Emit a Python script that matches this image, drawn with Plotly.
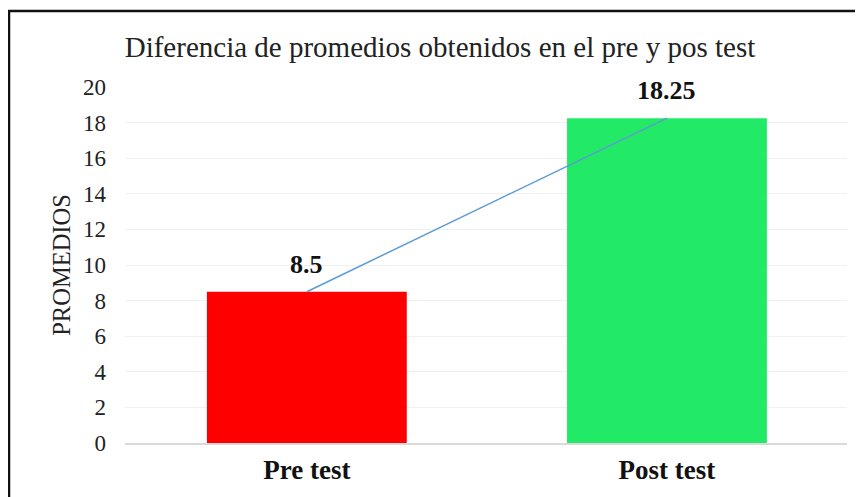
import plotly.graph_objects as go

categories = ["Pre test", "Post test"]
values = [8.5, 18.25]
bar_colors = ["#ff0000", "#22ea66"]
y_ticks = [0, 2, 4, 6, 8, 10, 12, 14, 16, 18, 20]

# page has an 8px body margin, so the figure is offset by 8px
OFF = 8
W, H = 863 - OFF, 497 - OFF
L, T = 125 - OFF, 87 - OFF
R = W - (847 - OFF)
B = H - (443 - OFF)
pw, ph = W - L - R, H - T - B

def px(x):
    return (x - OFF - L) / pw

def py(y):
    return (H - B - (y - OFF)) / ph

serif = "Liberation Serif, Times New Roman, serif"

fig = go.Figure()
fig.add_trace(go.Bar(
    x=categories, y=values, width=0.555,
    marker=dict(color=bar_colors, line=dict(width=0)),
    showlegend=False, hoverinfo="skip",
))
fig.add_trace(go.Scatter(
    x=categories, y=values, mode="lines",
    line=dict(color="#5b9bd5", width=1.5),
    showlegend=False, hoverinfo="skip",
))

annotations = [
    dict(x=c, y=v, xref="x", yref="y", text=f"<b>{v:g}</b>",
         showarrow=False, yanchor="bottom", yshift=11,
         font=dict(family=serif, size=26, color="#111111"))
    for c, v in zip(categories, values)
]

fig.update_layout(
    width=W, height=H,
    margin=dict(l=L, r=R, t=T, b=B),
    paper_bgcolor="white", plot_bgcolor="white",
    font=dict(family=serif, color="#222222"),
    title=dict(
        text="Diferencia de promedios obtenidos en el pre y pos test",
        x=(440 - OFF) / W, xanchor="center", y=1 - (47 - OFF) / H, yanchor="middle",
        font=dict(family=serif, size=29, color="#222222"),
    ),
    xaxis=dict(
        range=[-0.505, 1.5], showgrid=False,
        showline=True, linecolor="#d9d9d9", linewidth=2,
        ticks="", tickfont=dict(family=serif, size=27, color="#111111"),
        tickvals=categories, ticktext=[f"<b>{c}</b>" for c in categories],
        ticklabelstandoff=2,
    ),
    yaxis=dict(
        range=[0, 20], tickvals=y_ticks,
        showgrid=True, gridcolor="#f0f0f0", gridwidth=1,
        zeroline=False, showline=False,
        ticks="", ticklabelstandoff=18,
        tickfont=dict(family=serif, size=23, color="#222222"),
        title=dict(text="PROMEDIOS", standoff=5,
                   font=dict(family=serif, size=24.5, color="#222222")),
    ),
    annotations=annotations,
    shapes=[dict(
        type="rect", xref="paper", yref="paper",
        x0=px(9), x1=px(860), y0=py(510), y1=py(11),
        line=dict(color="#111111", width=2.5), fillcolor="rgba(0,0,0,0)",
        layer="above",
    )],
)

fig.write_html("out.html")
